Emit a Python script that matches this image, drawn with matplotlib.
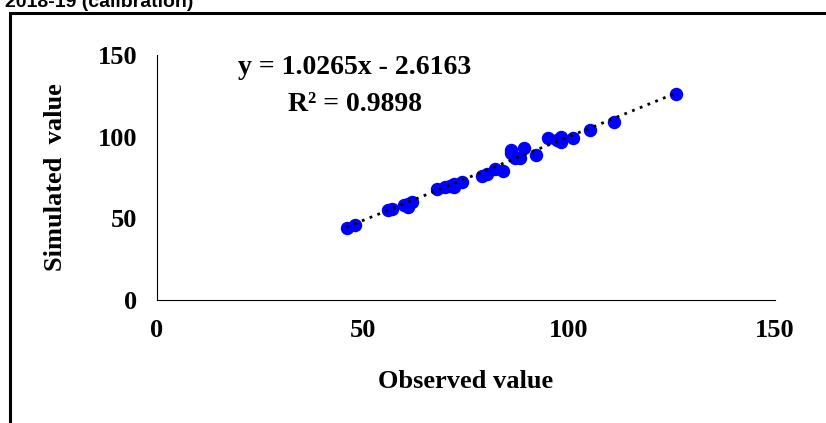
import matplotlib
matplotlib.use("Agg")
import matplotlib.pyplot as plt
import numpy as np
from matplotlib.patches import Rectangle

observed = [46, 48, 56, 57, 60, 61, 61, 62, 68, 70, 71, 72, 72, 74, 79, 80, 82, 84,
            86, 86, 87, 88, 89, 92, 95, 97, 98, 98, 101, 105, 111, 126]
simulated = [44, 46, 55, 56, 58, 57, 59, 60, 68, 69, 70, 71, 69, 72, 76, 77, 80, 79,
             92, 90, 87, 87, 93, 89, 99, 98, 100, 97, 99, 104, 109, 126]
slope, intercept = 1.0265, -2.6163
ticks = [0, 50, 100, 150]

fig = plt.figure(figsize=(8.26, 4.23), dpi=100)
fig.patches.append(Rectangle((10/826, -0.05), 2, (423-13)/423 + 0.05, transform=fig.transFigure,
                             fill=False, edgecolor="black", linewidth=2.2))
fig.text(5/826, 0.995, "2018-19 (calibration)", family="Liberation Sans", weight="bold",
         fontsize=14, va="center", ha="left")
ax = fig.add_axes([157/826, (423-300)/423, (775-157)/826, (300-55)/423])
xs = np.array([min(observed), max(observed)])
ax.plot(xs, slope*xs + intercept, color="black", linestyle=(0, (1, 2.0)), linewidth=2, zorder=3)
ax.scatter(observed, simulated, s=75, color="#0000ff", zorder=2)
ax.set_xlim(0, 150); ax.set_ylim(0, 150)
ax.set_xticks(ticks); ax.set_yticks(ticks)
for s in ["top", "right"]:
    ax.spines[s].set_visible(False)
ax.spines["left"].set_color("black"); ax.spines["bottom"].set_color("black")
ax.tick_params(length=0, pad=14, labelsize=19)
for lab in ax.get_xticklabels() + ax.get_yticklabels():
    lab.set_family("Liberation Serif"); lab.set_weight("bold")
ax.set_xlabel("Observed value", family="Liberation Serif", weight="bold", fontsize=19, labelpad=20)
ax.set_ylabel("Simulated  value", family="Liberation Serif", weight="bold", fontsize=19, labelpad=22)
ax.text(0.32, 0.947, "y = 1.0265x - 2.6163", transform=ax.transAxes, ha="center", va="center",
        family="Liberation Serif", weight="bold", fontsize=20)
ax.text(0.32, 0.80, "R² = 0.9898", transform=ax.transAxes, ha="center", va="center",
        family="Liberation Serif", weight="bold", fontsize=20)
fig.savefig("out.png", dpi=100)
